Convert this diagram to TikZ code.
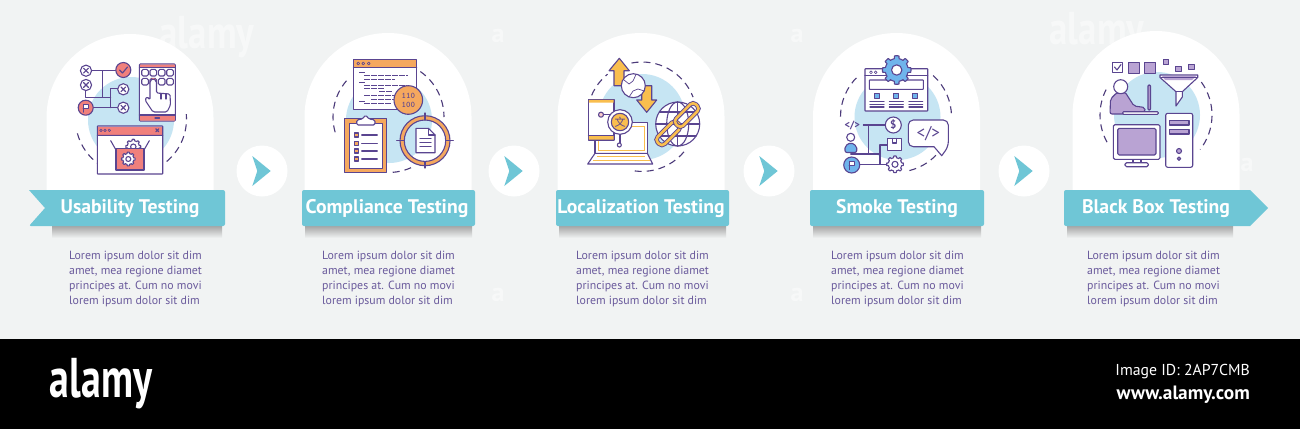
\documentclass[tikz,border=0pt]{standalone}
\usepackage{fontspec}
\setmainfont{PT Sans}
\newfontfamily\cjk{Noto Sans CJK SC}
\usetikzlibrary{calc}
\definecolor{pagegrey}{HTML}{F1F3F3}
\definecolor{ribbonblue}{HTML}{6FC6D6}
\definecolor{lineviolet}{HTML}{5A4590}
\definecolor{textviolet}{HTML}{6A5A9C}
\definecolor{blobblue}{HTML}{C6E5F3}
\definecolor{salmonfill}{HTML}{F0807C}
\definecolor{orangefill}{HTML}{F5A85E}
\definecolor{yellowfill}{HTML}{F9BE4E}
\definecolor{bluefill}{HTML}{6FB4EC}
\definecolor{lilacfill}{HTML}{B9A3D3}
\tikzset{iconline/.style = {draw=lineviolet, line width=1.1pt, line join=round, line cap=round}}
\tikzset{ringarc/.style = {draw=lineviolet!85!black, line width=1.1pt, dash pattern=on 7pt off 5pt}}
\tikzset{ribbon/.style = {fill=ribbonblue, rounded corners=2pt}}
\tikzset{titletext/.style = {text=white, font=\fontsize{19.7}{22}\selectfont\bfseries, inner sep=0pt}}
\tikzset{bodytext/.style = {text=textviolet, font=\fontsize{11.85}{15.2}\selectfont, align=left, anchor=north west, inner sep=0pt}}
\tikzset{markfaint/.style = {text=white, opacity=.45, font=\fontsize{38}{38}\selectfont\bfseries, inner sep=0pt}}
\newcommand{\crossball}[2]{
    \draw [iconline, fill=white] (#1, #2) circle [radius=5.6];
    \draw [iconline] (#1-2.4, #2-2.4) -- (#1+2.4, #2+2.4) (#1-2.4, #2+2.4) -- (#1+2.4, #2-2.4);
}
\newcommand{\flagball}[4]{
    \draw [iconline, fill=#4] (#1, #2) circle [radius=#3];
    \draw [iconline, fill=white] (#1-2.5, #2+4.5) -- (#1-2.5, #2-3.5) -- (#1+3.2, #2-3.5) -- (#1+3.2, #2+.5) -- (#1-2.5, #2+.5);
}
\newcommand{\cogwheel}[4]{
    \draw [iconline, fill=#4, shift={(#1, #2)}] plot [domain=0:357, samples=120] (\x:{#3*(1+.24*(cos(8*\x)>0))}) -- cycle;
    \draw [iconline, fill=white] (#1, #2) circle [radius=.45*#3];
}
\newcommand{\ringarcs}[4]{
    \foreach \from/\to in {#4} {
        \draw [ringarc] ($(#1, #2)+(\from:#3)$) arc [start angle=\from, end angle=\to, radius=#3];
    }
}
\begin{document}
\begin{tikzpicture}[x=1pt, y=1pt, yscale=-1]
    \useasboundingbox (0, 0) rectangle (1300, 429);
    \fill [pagegrey] (0, 0) rectangle (1300, 339);
    \fill [black] (0, 339) rectangle (1300, 429);
    \node [markfaint, font=\fontsize{46}{46}\selectfont\bfseries, xscale=.8] (markone) at (207, 37) {alamy};
    \node [markfaint, font=\fontsize{46}{46}\selectfont\bfseries, xscale=.8] (marktwo) at (1097, 33) {alamy};
    \foreach \i/\x/\y in {3/498/36, 4/797/36, 5/498/295, 6/797/295, 7/1247/165} {
        \node [markfaint, font=\fontsize{26}{26}\selectfont\bfseries] (mark\i) at (\x, \y) {a};
    }
    % arches
    \foreach \i/\cx/\top/\by in {1/130/34/120, 2/388/33/120, 3/641/33/117, 4/896.5/33/117, 5/1156/31/115} {
        \fill [white] (\cx-83.5, 195) -- (\cx-83.5, \top+83.5) arc [start angle=180, end angle=360, radius=83.5] -- (\cx+83.5, 195) -- cycle;
        \fill [blobblue] (\cx+1, \by) circle [radius=43];
    }
    % shadows and ribbons
    \foreach \l/\r in {52/222, 305/472, 559/726, 813/981, 1067/1233} {
        \shade [top color=black!35, bottom color=pagegrey] (\l, 226) rectangle (\r, 238);
    }
    \fill [ribbonblue] (29, 190) -- (223, 190) [rounded corners=2pt] -- (225, 190) -- (225, 226) -- (29, 226) [sharp corners] -- (45, 208) -- cycle;
    \foreach \l/\r in {302/475, 556/729, 810/984} {
        \fill [ribbon] (\l, 190) rectangle (\r, 226);
    }
    \fill [ribbonblue] (1250, 190) [rounded corners=2pt] -- (1064, 190) -- (1064, 226) [sharp corners] -- (1250, 226) -- (1268, 208) -- cycle;
    % arrows between panels
    \foreach \i/\cx in {1/262, 2/514, 3/769, 4/1024} {
        \fill [white] (\cx, 171) circle [radius=25.5];
        \fill [ribbonblue] (\cx-9.7, 156) -- (\cx+8.7, 171) -- (\cx-9.7, 186) -- (\cx-4.7, 171) -- cycle;
    }
    \node [titletext] (titleone) at (130, 208.5) {Usability Testing};
    \node [titletext] (titletwo) at (387, 208.5) {Compliance Testing};
    \node [titletext] (titlethree) at (641, 208.5) {Localization Testing};
    \node [titletext] (titlefour) at (897, 208.5) {Smoke Testing};
    \node [titletext] (titlefive) at (1156, 208.5) {Black Box Testing};
    \foreach \i/\x in {1/69, 2/322, 3/576, 4/831, 5/1087} {
        \node [bodytext] (body\i) at (\x, 250.5) {Lorem ipsum dolor sit dim\\amet, mea regione diamet\\principes at. Cum no movi\\lorem ipsum dolor sit dim};
    }
    % usability icon
    \ringarcs{131}{119}{55.5}{{165/125}, {50/-5}}
    \draw [iconline] (92, 70.7) -- (116, 70.7) (102.3, 70.7) -- (102.3, 97.3) (85.7, 90.7) -- (85.7, 97.3) -- (110.7, 97.3) (117.7, 88.3) -- (110.7, 88.3) -- (110.7, 107.7) (93, 107.7) -- (117.7, 107.7);
    \crossball{86}{70.7}
    \crossball{86}{85}
    \crossball{123.3}{89.3}
    \crossball{123.3}{107.7}
    \draw [iconline, fill=salmonfill] (123.3, 70) circle [radius=7.5];
    \draw [iconline] (119.5, 70) -- (122.5, 73) -- (127.5, 67);
    \flagball{85.7}{107.7}{7.5}{salmonfill}
    \draw [iconline, fill=white, rounded corners=1pt] (139.3, 64) rectangle (175.3, 121);
    \fill [salmonfill] (140, 64.5) rectangle (174.8, 67.7) (140, 115) rectangle (174.8, 120.5);
    \draw [iconline] (139.3, 67.7) -- (175.3, 67.7) (139.3, 115) -- (175.3, 115) (155, 118) -- (159.5, 118);
    \foreach \x in {145, 153.3, 161.7, 170} {
        \foreach \y in {72.7, 81.7} {
            \draw [iconline, rounded corners=1.5pt] (\x-3.3, \y-3.3) rectangle (\x+3.3, \y+3.3);
        }
    }
    \fill [salmonfill] (153.3, 81) circle [radius=3];
    \draw [iconline, fill=white, rounded corners=1.5pt] (150, 100) -- (150, 81) -- (153, 78.5) -- (156.5, 81) -- (156.5, 93) -- (170, 94) -- (170.5, 105) -- (167, 112) -- (153, 112) -- (145, 100) -- (147, 96.5) -- cycle;
    \draw [iconline] (161, 93.5) -- (161, 99) (166, 94) -- (166, 99);
    \draw [iconline, fill=white, rounded corners=.5pt] (97.3, 126) rectangle (162.7, 174);
    \fill [salmonfill] (98, 126.5) rectangle (162.2, 135.3);
    \draw [iconline] (97.3, 135.3) -- (162.7, 135.3) (155.8, 128.8) -- (158.8, 131.8) (155.8, 131.8) -- (158.8, 128.8);
    \foreach \x in {101, 105, 109.3} {
        \draw [iconline, line width=.6pt] (\x, 130.3) circle [radius=1.3];
    }
    \draw [iconline] (110.7, 140.7) -- (116, 150) (149.3, 140.7) -- (144, 150);
    \cogwheel{133.3}{146.7}{6}{white}
    \draw [iconline, fill=salmonfill] (116, 148.3) rectangle (144, 170);
    \cogwheel{128.3}{159}{5.5}{white}
    % compliance icon
    \ringarcs{388.5}{117}{55.5}{{164/224}, {-55/0}, {66/87}}
    \draw [iconline, fill=white] (353.3, 59.3) rectangle (416.7, 109.3);
    \fill [orangefill] (353.8, 59.8) rectangle (416.2, 67.3);
    \draw [iconline] (353.3, 67.3) -- (416.7, 67.3);
    \foreach \x in {358.3, 363.3, 368.7} {
        \draw [iconline, line width=.6pt] (\x, 63.5) circle [radius=1.4];
    }
    \foreach \x/\y/\z in {359/72.3/365, 364/75.7/408, 364/79/395, 359/82.3/365, 364/85/407, 364/88.3/385, 379/91.7/393, 364/95/397, 371/99/395, 359/101/365, 364/103.3/392} {
        \draw [lineviolet, line width=.7pt, dash pattern=on 6pt off 1pt] (\x, \y) -- (\z, \y);
    }
    \draw [iconline, fill=orangefill] (408.3, 100) circle [radius=14.3];
    \node [text=lineviolet, font=\fontsize{8.5}{9}\ttfamily\bfseries, align=center, inner sep=0pt] (binary) at (408.3, 100) {110\\100};
    \draw [iconline, fill=orangefill] (344.3, 118.3) rectangle (386.7, 172.3);
    \draw [iconline, fill=white] (349.3, 123.3) rectangle (382.3, 168.3);
    \draw [iconline, fill=white, rounded corners=1.5pt] (356.7, 125) -- (356.7, 120) -- (362.5, 119) -- (365.5, 115) -- (369, 119) -- (375, 120) -- (375, 125) -- cycle;
    \foreach \y in {135, 143.3, 151, 159} {
        \draw [iconline, fill=orangefill] (354.7, \y-2) rectangle (358.7, \y+2);
        \draw [iconline] (361.7, \y) -- (377.3, \y);
    }
    \draw [iconline, fill=orangefill, even odd rule] (425, 140.7) circle [radius=25] circle [radius=20.7];
    \draw [iconline] (396.7, 140.7) -- (404, 140.7) (446, 140.7) -- (453.3, 140.7) (425, 113) -- (425, 120) (425, 161.5) -- (425, 168);
    \draw [iconline, fill=white] (416, 128.3) -- (428.5, 128.3) -- (435, 135) -- (435, 152.7) -- (416, 152.7) -- cycle;
    \draw [iconline] (428.5, 128.3) -- (428.5, 135) -- (435, 135) (420, 138.5) -- (431, 138.5) (420, 142.5) -- (431, 142.5) (420, 146.5) -- (431, 146.5);
    % localization icon
    \ringarcs{642}{116.7}{54.7}{{203/231}, {259/339}, {40/101}}
    \draw [iconline, fill=yellowfill] (619.3, 58.3) -- (629.3, 70.7) -- (624, 70.7) -- (624, 85.7) -- (614, 85.7) -- (614, 70.7) -- (609, 70.7) -- cycle;
    \draw [iconline, fill=yellowfill] (646.7, 112.3) -- (656.7, 100) -- (651.7, 100) -- (651.7, 85.7) -- (641.7, 85.7) -- (641.7, 100) -- (636.7, 100) -- cycle;
    \draw [iconline, fill=white] (633.3, 85.7) circle [radius=12];
    \draw [iconline, line width=.7pt] (624, 80) -- (629, 84) -- (633, 81) -- (636, 74.5) (629, 97) -- (633, 91) -- (638, 89) -- (644.5, 91);
    \draw [iconline, fill=white] (595, 122.7) rectangle (647.3, 153.3);
    \draw [yellowfill, line width=1pt] (598, 126) -- (598, 150.5) -- (644.5, 150.5) -- (644.5, 126) -- cycle;
    \draw [iconline, fill=white] (595, 153.3) -- (647.3, 153.3) -- (652.7, 164) -- (587.7, 164) -- cycle;
    \draw [yellowfill, line width=1pt] (597, 156.5) -- (645, 156.5) (593, 160.5) -- (650, 160.5);
    \draw [iconline, fill=white] (588.3, 99.3) rectangle (614, 140);
    \fill [yellowfill] (588.8, 99.8) rectangle (613.5, 102.5) (588.8, 135.7) rectangle (613.5, 139.5);
    \draw [iconline] (588.3, 135.7) -- (614, 135.7) (603.5, 114.7) -- (610, 114.7) (620, 134) -- (620, 143);
    \draw [iconline, fill=salmonfill!40] (601, 114.7) circle [radius=2.5];
    \draw [iconline, fill=white] (619.3, 145) circle [radius=2];
    \draw [iconline, fill=white] (620, 122) circle [radius=12.3];
    \draw [iconline, fill=yellowfill] (620, 122) circle [radius=8.7];
    \node [text=lineviolet, font=\fontsize{11}{11}\selectfont\cjk, inner sep=0pt] (hanzi) at (620, 122) {文};
    \draw [iconline, fill=white] (677.7, 124) circle [radius=22];
    \draw [iconline] (677.7, 102) -- (677.7, 146) (655.7, 124) -- (699.7, 124) (659.5, 112) -- (696, 112) (659.5, 136) -- (696, 136);
    \draw [iconline] (677.7, 124) ellipse [x radius=11, y radius=22];
    \begin{scope}[shift={(668.3, 133.3)}, rotate=-45]
        \draw [lineviolet, line width=4.4pt, rounded corners=4pt] (-14, -5) rectangle (14, 5);
        \draw [yellowfill, line width=2.6pt, rounded corners=4pt] (-14, -5) rectangle (14, 5);
    \end{scope}
    \begin{scope}[shift={(686.7, 115)}, rotate=-45]
        \draw [lineviolet, line width=4.4pt, rounded corners=4pt] (-14, -5) rectangle (14, 5);
        \draw [yellowfill, line width=2.6pt, rounded corners=4pt] (-14, -5) rectangle (14, 5);
    \end{scope}
    % smoke icon
    \ringarcs{896}{116.7}{55.5}{{180/226}, {312/360}, {76/43}}
    \draw [iconline, fill=white, rounded corners=.5pt] (865, 68.7) rectangle (927.7, 111);
    \draw [iconline] (865, 75.7) -- (927.7, 75.7);
    \foreach \x in {871, 875.7} {
        \draw [iconline, line width=.6pt] (\x, 72.3) circle [radius=1.4];
    }
    \draw [iconline, rounded corners=.5pt] (869.3, 80) rectangle (923.3, 89.3);
    \foreach \x/\l/\r in {876.7/870/884, 896/889.3/903.3, 915.3/909/922.7} {
        \draw [iconline, fill=bluefill] (\x-2.5, 93.2) rectangle (\x+2.5, 98.2);
        \draw [iconline] (\l, 101.7) -- (\r, 101.7) (\l, 104.3) -- (\r, 104.3) (\l, 107) -- (\r, 107);
    }
    \cogwheel{896.7}{70}{11.5}{bluefill}
    \node [text=lineviolet, font=\fontsize{10.5}{10}\selectfont\bfseries, inner sep=0pt] (codetag) at (852.3, 125) {</>};
    \draw [iconline] (863.3, 125) -- (885, 125) (868.3, 125) -- (868.3, 154) (850.7, 154) -- (880, 154) (887.3, 145) -- (880, 145) -- (880, 164.3) (860, 164.3) -- (887, 164.3);
    \draw [iconline, fill=white] (893.3, 125) circle [radius=8];
    \node [text=lineviolet, font=\fontsize{11}{11}\selectfont\bfseries, inner sep=0pt] (dollar) at (893.3, 125) {\$};
    \draw [iconline, fill=white] (850.7, 137.3) circle [radius=4];
    \draw [iconline, fill=bluefill, rounded corners=2pt] (845, 152.5) -- (845, 146) -- (850.7, 142.5) -- (856.7, 146) -- (856.7, 152.5) -- cycle;
    \flagball{851.7}{165}{8}{bluefill}
    \draw [iconline, fill=white] (887.3, 138.3) rectangle (901.7, 150.7);
    \draw [iconline] (892.5, 138.3) -- (892.5, 143) -- (896.5, 143) -- (896.5, 138.3);
    \cogwheel{895}{164.3}{6.7}{white}
    \draw [iconline, fill=white, rounded corners=5pt] (908.3, 132) -- (908.3, 120) -- (948.3, 120) -- (948.3, 146.7) [sharp corners] -- (941.7, 155.7) -- (934, 146.7) [rounded corners=5pt] -- (908.3, 146.7) -- cycle;
    \node [text=lineviolet, font=\fontsize{17}{17}\selectfont, inner sep=0pt] (codebubble) at (928.3, 134) {</>};
    % black box icon
    \ringarcs{1156}{115}{56}{{151/207}, {-36/38}}
    \draw [iconline, fill=white] (1112.3, 62.3) rectangle (1122.7, 72.7);
    \draw [iconline] (1114.5, 67) -- (1117, 70) -- (1121, 64.5);
    \draw [iconline, fill=lilacfill] (1128.3, 62.3) rectangle (1139.3, 73.3);
    \draw [iconline, fill=lilacfill] (1144.3, 62.3) rectangle (1155.7, 73.3);
    \foreach \x/\y in {1166/62, 1178.3/69, 1191.3/67} {
        \draw [iconline, fill=lilacfill] (\x-2.8, \y-2.8) rectangle (\x+2.8, \y+2.8);
    }
    \draw [iconline, fill=white] (1160, 75) -- (1197.7, 75) -- (1197.7, 77.5) -- (1182.3, 91.7) -- (1182.3, 97) -- (1176, 106) -- (1176, 91.7) -- (1160, 77.5) -- cycle;
    \fill [lilacfill] (1162, 76) -- (1196, 76) -- (1192, 80) -- (1165, 80) -- cycle;
    \draw [iconline] (1161, 77.5) -- (1197, 77.5) (1176, 91.7) -- (1182.3, 91.7);
    \draw [iconline, fill=lilacfill, rounded corners=2pt] (1110, 114) -- (1110.5, 99) -- (1117, 92.5) -- (1125, 92) -- (1134, 106) -- (1145, 107.5) -- (1145, 111.7) -- (1125, 111.7) -- (1125, 114) -- cycle;
    \draw [iconline, fill=white] (1120.7, 86.7) circle [radius=7];
    \draw [iconline, fill=lilacfill, rounded corners=1pt] (1148, 85) rectangle (1150.5, 110);
    \draw [iconline, fill=white, rounded corners=1pt] (1122.7, 111.7) rectangle (1158.3, 114.3);
    \draw [iconline, fill=white, rounded corners=1.5pt] (1113.3, 124.7) rectangle (1160, 159.3);
    \draw [iconline, fill=lilacfill, rounded corners=1.5pt] (1117.7, 128.3) rectangle (1156, 155);
    \draw [iconline, fill=white] (1133, 159.3) rectangle (1141, 162.7);
    \draw [iconline, fill=white, rounded corners=1.5pt] (1125, 162.7) rectangle (1148.3, 166.7);
    \draw [iconline, fill=white, rounded corners=2pt] (1165.7, 113.3) rectangle (1192.7, 167.3);
    \draw [iconline, fill=lilacfill] (1169.3, 120.7) rectangle (1189, 125);
    \draw [iconline, fill=lilacfill] (1169.3, 129.3) rectangle (1189, 134);
    \draw [iconline, fill=lilacfill] (1179, 151) circle [radius=2.5];
    \draw [iconline, fill=lilacfill] (1179, 158.7) circle [radius=1.7];
    % footer
    \node [text=white, font=\fontsize{56}{56}\selectfont\bfseries, xscale=.71, inner sep=0pt] (logo) at (101, 384) {alamy};
    \node [text=white, font=\fontsize{15.8}{18}\selectfont, inner sep=0pt, anchor=east] (imageid) at (1250, 372) {Image ID: 2AP7CMB};
    \node [text=white, font=\fontsize{19.3}{22}\selectfont\bfseries, inner sep=0pt, anchor=east] (website) at (1250, 395) {www.alamy.com};
\end{tikzpicture}
\end{document}
